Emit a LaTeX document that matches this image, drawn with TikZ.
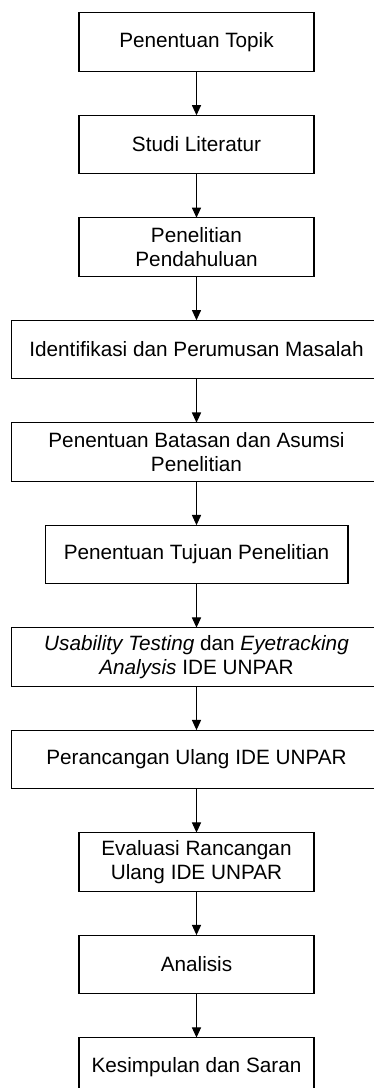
\documentclass[tikz,border=0pt]{standalone}
\usepackage{fontspec}
\setmainfont{Liberation Sans}
\usetikzlibrary{positioning,arrows.meta}

\begin{document}
\begin{tikzpicture}[x=0.02cm,y=0.02cm,
  font=\fontsize{11.8}{13.7}\selectfont,
  node distance=0.88cm,
  box/.style={draw,line width=0.6pt,minimum height=1.17cm,align=center,inner sep=2pt,outer sep=0pt},
  arr/.style={-{Triangle[width=5.2pt,length=5.8pt]},line width=0.6pt}]
  \clip (0,0) rectangle (374,-1088);
  \node[box,minimum width=4.7cm] (topik) at (196.5,-42) {Penentuan Topik};
  \node[box,minimum width=4.7cm,below=of topik] (studi) {Studi Literatur};
  \node[box,minimum width=4.7cm,below=of studi] (pendahuluan) {Penelitian\\Pendahuluan};
  \node[box,minimum width=7.42cm,below=of pendahuluan] (identifikasi) {Identifikasi dan Perumusan Masalah};
  \node[box,minimum width=7.42cm,below=of identifikasi] (batasan) {Penentuan Batasan dan Asumsi\\Penelitian};
  \node[box,minimum width=6.06cm,below=of batasan] (tujuan) {Penentuan Tujuan Penelitian};
  \node[box,minimum width=7.42cm,below=of tujuan] (testing) {\textit{Usability Testing} dan \textit{Eyetracking}\\\textit{Analysis} IDE UNPAR};
  \node[box,minimum width=7.42cm,below=of testing] (rancang) {Perancangan Ulang IDE UNPAR};
  \node[box,minimum width=4.7cm,below=of rancang] (evaluasi) {Evaluasi Rancangan\\Ulang IDE UNPAR};
  \node[box,minimum width=4.7cm,below=of evaluasi] (analisis) {Analisis};
  \node[box,minimum width=4.7cm,below=of analisis] (simpulan) {Kesimpulan dan Saran};
  % alur
  \foreach \a/\b in {topik/studi,studi/pendahuluan,pendahuluan/identifikasi,
    identifikasi/batasan,batasan/tujuan,tujuan/testing,testing/rancang,
    rancang/evaluasi,evaluasi/analisis,analisis/simpulan}
    \draw[arr] (\a.south) -- (\b.north);
\end{tikzpicture}
\end{document}
